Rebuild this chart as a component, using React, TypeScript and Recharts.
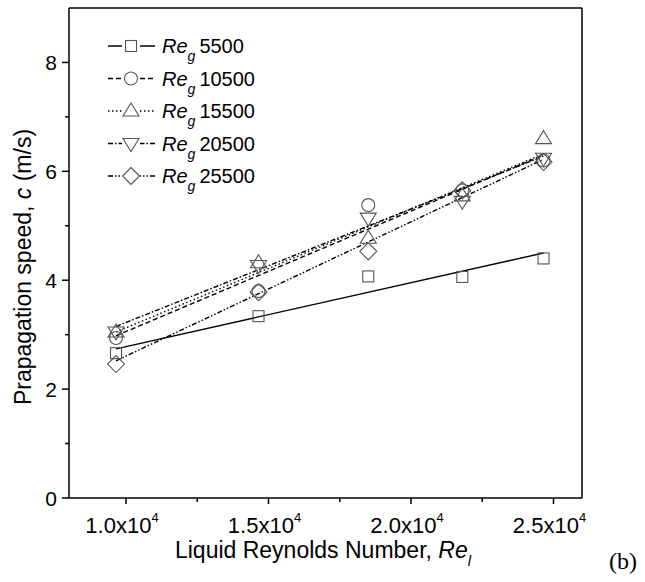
import { ComposedChart, Line, Scatter, XAxis, YAxis, ReferenceLine } from 'recharts'

// measured Re_l positions (same for all series)
const reL = [9650, 14650, 18500, 21800, 24650]

const reG5500 = [2.66, 3.34, 4.07, 4.06, 4.4]
const reG10500 = [2.94, 3.8, 5.38, 5.65, 6.2]
const reG15500 = [3.05, 4.32, 4.77, 5.55, 6.6]
const reG20500 = [3.05, 4.27, 5.14, 5.45, 6.24]
const reG25500 = [2.46, 3.78, 4.53, 5.65, 6.17]

// linear fit lines, values at first and last Re_l
const fitX = [9650, 24650]
const fit5500 = [2.74, 4.5]
const fit10500 = [2.98, 6.3]
const fit15500 = [3.05, 6.32]
const fit20500 = [3.15, 6.28]
const fit25500 = [2.52, 6.22]

const legendLabels = ['5500', '10500', '15500', '20500', '25500']
const xTicks = [10000, 12500, 15000, 17500, 20000, 22500, 25000]
const yTicks = [0, 1, 2, 3, 4, 5, 6, 7, 8]

type Kind = 'square' | 'circle' | 'up' | 'down' | 'diamond'

const series: { kind: Kind; vals: number[]; fit: number[]; dash?: string }[] = [
  { kind: 'square', vals: reG5500, fit: fit5500 },
  { kind: 'circle', vals: reG10500, fit: fit10500, dash: '5 3' },
  { kind: 'up', vals: reG15500, fit: fit15500, dash: '1.5 2.5' },
  { kind: 'down', vals: reG20500, fit: fit20500, dash: '5 2 1.5 2' },
  { kind: 'diamond', vals: reG25500, fit: fit25500, dash: '5 2 1.5 2 1.5 2' },
]

const FONT = '"Liberation Sans", Arial, sans-serif'
const MARK = '#555'

function Marker({ kind, cx, cy }: { kind: Kind; cx: number; cy: number }) {
  const common = { fill: 'none', stroke: MARK, strokeWidth: 1.1 }
  switch (kind) {
    case 'square':
      return <rect x={cx - 5.5} y={cy - 5.5} width={11} height={11} {...common} />
    case 'circle':
      return <circle cx={cx} cy={cy} r={6.5} {...common} />
    case 'up':
      return <polygon points={`${cx},${cy - 8} ${cx + 8},${cy + 5} ${cx - 8},${cy + 5}`} {...common} />
    case 'down':
      return <polygon points={`${cx},${cy + 8} ${cx + 8},${cy - 5} ${cx - 8},${cy - 5}`} {...common} />
    default:
      return <polygon points={`${cx},${cy - 8.5} ${cx + 8.5},${cy} ${cx},${cy + 8.5} ${cx - 8.5},${cy}`} {...common} />
  }
}

const XTick = (props: any) => {
  const { x, y, payload } = props
  const v = payload.value
  const major = v % 5000 === 0
  return (
    <g>
      <line x1={x} x2={x} y1={y} y2={y + (major ? 6 : 4)} stroke="#000" strokeWidth={1.5} />
      {major && (
        <text x={x - 4} y={y + 35} textAnchor="middle" fontSize={22} fontFamily={FONT} fill="#000">
          {(v / 10000).toFixed(1)}x10
          <tspan dy={-11} fontSize={13}>4</tspan>
        </text>
      )}
    </g>
  )
}

const YTick = (props: any) => {
  const { x, y, payload } = props
  const v = payload.value
  const major = v % 2 === 0
  return (
    <g>
      <line x1={x - (major ? 7 : 4)} x2={x} y1={y} y2={y} stroke="#000" strokeWidth={1.5} />
      {major && (
        <text x={x - 12} y={y} dy="0.36em" textAnchor="end" fontSize={21} fontFamily={FONT} fill="#000">
          {v}
        </text>
      )}
    </g>
  )
}

export default function App() {
  return (
    <div style={{ position: 'absolute', left: 0, top: 0, width: 645, height: 582, background: '#fff' }}>
      <ComposedChart width={645} height={582} margin={{ top: 8, right: 63, bottom: 0, left: 0 }}>
        <XAxis
          dataKey="x"
          type="number"
          domain={[8000, 26000]}
          ticks={xTicks}
          interval={0}
          height={84}
          tick={<XTick />}
          tickLine={false}
          tickSize={0}
          tickMargin={0}
          axisLine={{ stroke: '#000', strokeWidth: 1.5 }}
        />
        <YAxis
          type="number"
          domain={[0, 9]}
          ticks={yTicks}
          interval={0}
          width={69}
          tick={<YTick />}
          tickLine={false}
          tickSize={0}
          tickMargin={0}
          axisLine={{ stroke: '#000', strokeWidth: 1.5 }}
        />
        <ReferenceLine y={9} stroke="#000" strokeWidth={1.5} />
        <ReferenceLine x={26000} stroke="#000" strokeWidth={1.5} />
        {series.map((s, i) => (
          <Line
            key={'fit' + i}
            data={fitX.map((x, j) => ({ x, y: s.fit[j] }))}
            dataKey="y"
            stroke="#000"
            strokeWidth={1.4}
            strokeDasharray={s.dash}
            dot={false}
            activeDot={false}
            isAnimationActive={false}
          />
        ))}
        {series.map((s, i) => (
          <Scatter
            key={'pts' + i}
            data={reL.map((x, j) => ({ x, y: s.vals[j] }))}
            dataKey="y"
            shape={(p: any) => <Marker kind={s.kind} cx={p.cx} cy={p.cy} />}
            isAnimationActive={false}
          />
        ))}
      </ComposedChart>
      <svg width={645} height={582} style={{ position: 'absolute', left: 0, top: 0, pointerEvents: 'none' }}>
        {series.map((s, i) => {
          const y = 46 + i * 32.5
          return (
            <g key={i}>
              <line x1={108} x2={155} y1={y} y2={y} stroke="#000" strokeWidth={1.4} strokeDasharray={s.dash} />
              <rect x={122} y={y - 9} width={18} height={18} fill="#fff" />
              <Marker kind={s.kind} cx={131} cy={y} />
              <text x={162} y={y + 7} fontSize={20} fontFamily={FONT} fill="#000">
                <tspan fontStyle="italic">Re</tspan>
                <tspan fontStyle="italic" fontSize={14} dy={8}>g</tspan>
                <tspan dy={-8} dx={4}>{legendLabels[i]}</tspan>
              </text>
            </g>
          )
        })}
        <text x={323} y={558} textAnchor="middle" fontSize={23} fontFamily={FONT} fill="#000">
          Liquid Reynolds Number, <tspan fontStyle="italic">Re</tspan>
          <tspan fontStyle="italic" fontSize={15} dy={8}>l</tspan>
        </text>
        <text
          x={0}
          y={0}
          transform="translate(31,267) rotate(-90)"
          textAnchor="middle"
          fontSize={23}
          fontFamily={FONT}
          fill="#000"
        >
          Prapagation speed, <tspan fontStyle="italic">c</tspan> (m/s)
        </text>
        <text x={609} y={569} fontSize={24} fontFamily={'"Liberation Serif", "Times New Roman", serif'} fill="#000">
          (b)
        </text>
      </svg>
    </div>
  )
}
